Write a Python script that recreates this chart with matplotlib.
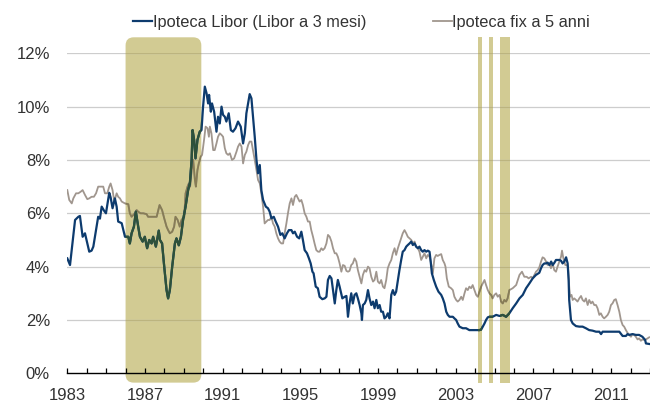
import matplotlib.pyplot as plt
from matplotlib.patches import FancyBboxPatch
from matplotlib.ticker import MultipleLocator, FixedLocator

plt.rcParams['font.family'] = ['Liberation Sans', 'DejaVu Sans']

# Ipoteca Libor (Libor a 3 mesi)
libor_year = [
    1983.00, 1983.14, 1983.40, 1983.57, 1983.65, 1983.79, 1983.91, 1984.13, 1984.25, 1984.34,
    1984.59, 1984.68, 1984.77, 1984.89, 1984.99, 1985.16, 1985.23, 1985.33, 1985.45, 1985.54,
    1985.62, 1985.80, 1985.97, 1986.14, 1986.22, 1986.31, 1986.43, 1986.53, 1986.65, 1986.74,
    1986.88, 1986.99, 1987.11, 1987.22, 1987.34, 1987.42, 1987.56, 1987.71, 1987.77, 1987.88,
    1987.99, 1988.11, 1988.19, 1988.28, 1988.40, 1988.54, 1988.62, 1988.74, 1988.85, 1988.96,
    1989.09, 1989.22, 1989.31, 1989.40, 1989.45, 1989.53, 1989.60, 1989.70, 1989.82, 1989.91,
    1989.99, 1990.08, 1990.17, 1990.25, 1990.30, 1990.39, 1990.45, 1990.56, 1990.68, 1990.76,
    1990.85, 1990.94, 1991.02, 1991.11, 1991.19, 1991.31, 1991.42, 1991.53, 1991.66, 1991.79,
    1991.93, 1992.05, 1992.14, 1992.22, 1992.31, 1992.39, 1992.48, 1992.56, 1992.65, 1992.74,
    1992.82, 1992.91, 1992.99, 1993.08, 1993.22, 1993.33, 1993.42, 1993.51, 1993.63, 1993.73,
    1993.85, 1993.97, 1994.07, 1994.19, 1994.31, 1994.41, 1994.54, 1994.62, 1994.71, 1994.83,
    1994.94, 1995.05, 1995.13, 1995.22, 1995.34, 1995.44, 1995.53, 1995.62, 1995.68, 1995.79,
    1995.90, 1995.99, 1996.13, 1996.25, 1996.34, 1996.42, 1996.51, 1996.60, 1996.68, 1996.77,
    1996.85, 1996.93, 1997.02, 1997.16, 1997.28, 1997.37, 1997.45, 1997.53, 1997.62, 1997.70,
    1997.79, 1997.88, 1997.96, 1998.05, 1998.14, 1998.17, 1998.22, 1998.31, 1998.39, 1998.48,
    1998.56, 1998.65, 1998.74, 1998.82, 1998.91, 1998.99, 1999.08, 1999.16, 1999.25, 1999.33,
    1999.42, 1999.50, 1999.59, 1999.68, 1999.76, 1999.85, 1999.93, 2000.02, 2000.10, 2000.19,
    2000.27, 2000.36, 2000.45, 2000.53, 2000.62, 2000.71, 2000.79, 2000.88, 2000.96, 2001.05,
    2001.13, 2001.22, 2001.30, 2001.39, 2001.48, 2001.56, 2001.65, 2001.70, 2001.77, 2001.87,
    2001.99, 2002.11, 2002.25, 2002.33, 2002.42, 2002.51, 2002.59, 2002.68, 2002.85, 2002.93,
    2003.02, 2003.10, 2003.19, 2003.36, 2003.53, 2003.70, 2003.87, 2004.05, 2004.22, 2004.31,
    2004.39, 2004.48, 2004.56, 2004.65, 2004.73, 2004.90, 2005.08, 2005.25, 2005.42, 2005.59,
    2005.76, 2005.93, 2006.11, 2006.28, 2006.45, 2006.62, 2006.79, 2006.96, 2007.13, 2007.30,
    2007.39, 2007.47, 2007.56, 2007.65, 2007.73, 2007.82, 2007.91, 2007.99, 2008.08, 2008.16,
    2008.33, 2008.42, 2008.50, 2008.59, 2008.68, 2008.76, 2008.81, 2008.84, 2008.90, 2008.93,
    2009.02, 2009.19, 2009.36, 2009.53, 2009.70, 2009.87, 2010.04, 2010.22, 2010.39, 2010.48,
    2010.56, 2010.73, 2011.42, 2011.59, 2011.76, 2011.84, 2011.93, 2012.10, 2012.27, 2012.44,
    2012.61, 2012.75, 2012.79, 2012.96,
]
libor_rate = [
    4.31, 4.06, 5.75, 5.87, 5.90, 5.12, 5.25, 4.56, 4.60, 4.75,
    5.87, 5.80, 6.25, 6.10, 6.00, 6.77, 6.60, 6.19, 6.56, 6.25,
    5.69, 5.63, 5.12, 5.12, 4.87, 5.25, 5.50, 6.06, 5.50, 5.12,
    4.94, 5.12, 4.69, 5.00, 4.87, 5.12, 4.75, 5.35, 5.00, 4.87,
    4.00, 3.12, 2.81, 3.12, 4.00, 4.87, 5.06, 4.80, 5.12, 5.75,
    6.25, 6.87, 7.12, 8.00, 9.12, 8.75, 8.06, 8.75, 9.06, 9.12,
    10.00, 10.75, 10.50, 10.12, 10.44, 9.81, 10.12, 9.81, 9.06, 9.62,
    9.37, 10.00, 9.69, 9.62, 9.44, 9.75, 9.12, 9.06, 9.19, 9.44,
    9.25, 8.62, 9.00, 9.75, 10.12, 10.47, 10.31, 9.62, 8.87, 8.00,
    7.50, 7.81, 6.87, 6.50, 6.25, 6.19, 6.06, 5.81, 5.87, 5.69,
    5.50, 5.19, 5.25, 5.06, 5.25, 5.37, 5.37, 5.25, 5.31, 5.12,
    5.06, 5.31, 5.00, 4.62, 4.50, 4.31, 4.12, 3.81, 3.75, 3.25,
    3.19, 2.87, 2.78, 2.81, 2.87, 3.50, 3.65, 3.56, 3.12, 2.62,
    3.12, 3.50, 3.25, 2.81, 2.87, 2.90, 2.12, 2.62, 3.00, 2.62,
    2.94, 3.00, 2.81, 2.56, 2.25, 2.00, 2.56, 2.62, 2.75, 3.12,
    2.81, 2.56, 2.69, 2.44, 2.75, 2.44, 2.56, 2.31, 2.31, 2.06,
    2.12, 2.25, 2.06, 2.94, 3.12, 2.94, 3.06, 3.50, 3.87, 4.25,
    4.56, 4.62, 4.75, 4.81, 4.87, 4.94, 4.81, 4.87, 4.75, 4.69,
    4.75, 4.62, 4.56, 4.62, 4.56, 4.60, 4.56, 4.25, 3.75, 3.50,
    3.25, 3.06, 2.94, 2.81, 2.62, 2.31, 2.19, 2.12, 2.12, 2.06,
    2.00, 1.87, 1.75, 1.69, 1.69, 1.62, 1.62, 1.62, 1.62, 1.64,
    1.75, 1.87, 2.00, 2.10, 2.12, 2.12, 2.19, 2.15, 2.19, 2.12,
    2.25, 2.44, 2.62, 2.81, 2.94, 3.19, 3.37, 3.56, 3.69, 3.77,
    3.94, 4.06, 4.12, 4.12, 4.15, 4.06, 4.19, 4.06, 4.15, 4.25,
    4.25, 4.22, 4.12, 4.19, 4.35, 4.12, 3.50, 2.75, 2.25, 2.00,
    1.87, 1.77, 1.75, 1.75, 1.69, 1.62, 1.60, 1.56, 1.56, 1.47,
    1.56, 1.56, 1.56, 1.40, 1.40, 1.47, 1.44, 1.47, 1.44, 1.44,
    1.37, 1.25, 1.12, 1.10,
]

# Ipoteca fix a 5 anni
fix_year = [
    1983.00, 1983.10, 1983.23, 1983.31, 1983.45, 1983.57, 1983.69, 1983.79, 1983.91, 1984.03,
    1984.13, 1984.25, 1984.37, 1984.48, 1984.59, 1984.77, 1984.85, 1984.94, 1985.06, 1985.16,
    1985.23, 1985.33, 1985.42, 1985.54, 1985.62, 1985.71, 1985.80, 1985.97, 1986.14, 1986.22,
    1986.31, 1986.48, 1986.57, 1986.65, 1986.77, 1986.91, 1987.08, 1987.16, 1987.42, 1987.60,
    1987.75, 1987.88, 1987.99, 1988.11, 1988.19, 1988.28, 1988.40, 1988.50, 1988.57, 1988.68,
    1988.79, 1988.88, 1989.02, 1989.09, 1989.19, 1989.26, 1989.32, 1989.40, 1989.48, 1989.57,
    1989.62, 1989.70, 1989.77, 1989.87, 1989.94, 1990.04, 1990.12, 1990.22, 1990.29, 1990.34,
    1990.42, 1990.51, 1990.59, 1990.68, 1990.76, 1990.85, 1990.94, 1991.02, 1991.11, 1991.19,
    1991.28, 1991.37, 1991.48, 1991.59, 1991.71, 1991.79, 1991.88, 1991.97, 1992.05, 1992.14,
    1992.22, 1992.31, 1992.39, 1992.48, 1992.56, 1992.65, 1992.74, 1992.82, 1992.91, 1992.99,
    1993.08, 1993.16, 1993.25, 1993.33, 1993.42, 1993.51, 1993.59, 1993.68, 1993.76, 1993.85,
    1993.93, 1994.02, 1994.11, 1994.19, 1994.28, 1994.36, 1994.45, 1994.54, 1994.62, 1994.71,
    1994.79, 1994.88, 1994.96, 1995.05, 1995.13, 1995.22, 1995.31, 1995.39, 1995.48, 1995.56,
    1995.65, 1995.73, 1995.82, 1995.91, 1995.99, 1996.08, 1996.16, 1996.25, 1996.34, 1996.42,
    1996.51, 1996.60, 1996.68, 1996.77, 1996.85, 1996.93, 1997.02, 1997.11, 1997.19, 1997.28,
    1997.37, 1997.45, 1997.53, 1997.62, 1997.70, 1997.79, 1997.88, 1997.96, 1998.05, 1998.14,
    1998.22, 1998.31, 1998.39, 1998.48, 1998.56, 1998.65, 1998.74, 1998.82, 1998.91, 1998.99,
    1999.08, 1999.16, 1999.25, 1999.33, 1999.42, 1999.50, 1999.59, 1999.68, 1999.76, 1999.85,
    1999.93, 2000.02, 2000.10, 2000.19, 2000.27, 2000.36, 2000.45, 2000.53, 2000.62, 2000.71,
    2000.79, 2000.88, 2000.96, 2001.05, 2001.13, 2001.22, 2001.30, 2001.39, 2001.48, 2001.56,
    2001.65, 2001.73, 2001.82, 2001.90, 2001.99, 2002.07, 2002.16, 2002.25, 2002.33, 2002.42,
    2002.47, 2002.54, 2002.64, 2002.76, 2002.85, 2002.93, 2003.02, 2003.10, 2003.19, 2003.28,
    2003.36, 2003.45, 2003.53, 2003.62, 2003.70, 2003.79, 2003.87, 2003.96, 2004.05, 2004.13,
    2004.22, 2004.31, 2004.39, 2004.48, 2004.56, 2004.65, 2004.73, 2004.82, 2004.90, 2004.99,
    2005.08, 2005.16, 2005.25, 2005.33, 2005.42, 2005.50, 2005.59, 2005.67, 2005.76, 2005.93,
    2006.11, 2006.28, 2006.41, 2006.53, 2006.65, 2006.75, 2006.88, 2006.96, 2007.05, 2007.13,
    2007.22, 2007.30, 2007.39, 2007.47, 2007.56, 2007.65, 2007.73, 2007.82, 2007.90, 2007.99,
    2008.07, 2008.16, 2008.24, 2008.33, 2008.42, 2008.47, 2008.54, 2008.64, 2008.71, 2008.78,
    2008.84, 2008.88, 2008.96, 2009.02, 2009.10, 2009.19, 2009.27, 2009.36, 2009.45, 2009.53,
    2009.62, 2009.70, 2009.79, 2009.87, 2009.96, 2010.04, 2010.13, 2010.22, 2010.30, 2010.39,
    2010.47, 2010.56, 2010.64, 2010.73, 2010.82, 2010.90, 2010.99, 2011.07, 2011.16, 2011.24,
    2011.33, 2011.42, 2011.50, 2011.59, 2011.67, 2011.76, 2011.84, 2011.93, 2012.02, 2012.10,
    2012.19, 2012.27, 2012.36, 2012.44, 2012.53, 2012.61, 2012.70, 2012.79, 2012.87, 2012.96,
]
fix_rate = [
    6.87, 6.50, 6.37, 6.56, 6.75, 6.75, 6.81, 6.87, 6.69, 6.53,
    6.56, 6.62, 6.62, 6.75, 7.00, 7.00, 7.00, 6.75, 6.75, 7.00,
    7.12, 6.87, 6.44, 6.75, 6.62, 6.56, 6.44, 6.37, 6.34, 6.00,
    5.87, 6.00, 6.12, 6.06, 6.00, 6.00, 5.97, 5.87, 5.87, 5.87,
    6.31, 6.12, 5.81, 5.50, 5.37, 5.25, 5.31, 5.50, 5.87, 5.75,
    5.50, 5.75, 5.87, 6.75, 7.00, 7.12, 7.00, 7.62, 8.00, 7.25,
    7.00, 7.62, 7.87, 8.12, 8.19, 8.75, 9.25, 9.19, 8.87, 9.25,
    9.00, 8.37, 8.37, 8.62, 8.87, 9.00, 8.94, 8.87, 8.44, 8.25,
    8.19, 8.25, 8.00, 8.06, 8.31, 8.50, 8.62, 8.50, 7.87, 8.19,
    8.31, 8.56, 8.69, 8.69, 8.37, 8.00, 7.62, 7.25, 7.12, 6.75,
    6.25, 5.62, 5.69, 5.75, 5.75, 5.87, 5.62, 5.50, 5.25, 5.06,
    4.94, 4.87, 4.87, 5.25, 5.62, 6.00, 6.37, 6.56, 6.31, 6.62,
    6.69, 6.56, 6.44, 6.50, 6.31, 6.00, 5.87, 5.69, 5.69, 5.37,
    5.12, 4.87, 4.62, 4.56, 4.56, 4.69, 4.62, 4.69, 4.87, 5.19,
    5.12, 4.94, 4.69, 4.50, 4.50, 4.37, 4.12, 3.81, 4.06, 4.03,
    3.84, 3.81, 3.84, 4.06, 4.12, 4.31, 4.19, 3.87, 3.62, 3.37,
    3.69, 3.87, 3.81, 4.00, 3.94, 3.62, 3.44, 3.50, 3.81, 3.44,
    3.37, 3.50, 3.25, 3.19, 3.50, 3.94, 4.12, 4.25, 4.50, 4.69,
    4.44, 4.69, 4.87, 5.06, 5.25, 5.37, 5.25, 5.12, 5.06, 5.00,
    4.87, 4.94, 4.75, 4.69, 4.56, 4.25, 4.37, 4.50, 4.31, 4.44,
    4.37, 4.12, 3.75, 4.31, 4.44, 4.40, 4.44, 4.47, 4.25, 4.12,
    4.00, 3.56, 3.25, 3.19, 3.12, 2.87, 2.75, 2.69, 2.75, 2.87,
    2.75, 3.00, 3.19, 3.12, 3.25, 3.19, 3.31, 3.12, 2.94, 2.87,
    3.06, 3.25, 3.37, 3.50, 3.31, 3.12, 3.00, 2.94, 2.81, 2.94,
    3.00, 2.87, 2.94, 2.69, 2.62, 2.75, 2.69, 2.81, 3.12, 3.19,
    3.31, 3.69, 3.81, 3.62, 3.62, 3.56, 3.62, 3.56, 3.69, 3.81,
    3.87, 3.97, 4.19, 4.35, 4.31, 4.19, 4.06, 4.12, 3.94, 4.12,
    3.87, 3.81, 4.00, 4.19, 4.37, 4.60, 4.31, 4.06, 4.06, 4.00,
    3.25, 2.87, 2.94, 2.75, 2.81, 2.75, 2.69, 2.81, 2.90, 2.75,
    2.69, 2.81, 2.56, 2.75, 2.62, 2.69, 2.56, 2.56, 2.44, 2.19,
    2.25, 2.12, 2.06, 2.12, 2.19, 2.31, 2.56, 2.62, 2.75, 2.78,
    2.56, 2.31, 2.00, 1.81, 1.75, 1.62, 1.52, 1.44, 1.37, 1.47,
    1.44, 1.37, 1.27, 1.31, 1.22, 1.27, 1.25, 1.27, 1.31, 1.35,
]

# shaded periods
shade_start = [1986.0, 2004.13, 2004.73, 2005.28]
shade_end = [1989.9, 2004.34, 2004.92, 2005.81]
shade_round = [True, False, False, False]

yticks = [0, 2, 4, 6, 8, 10, 12]

navy = '#0d3b6e'
grey = '#a0968e'
navy_in = '#2e5139'
grey_in = '#877d55'
band = '#d2cb93'
grid_c = '#cdcdcd'
grid_in = '#bcb47f'

fig = plt.figure(figsize=(6.5, 4.03), dpi=100)
ax = fig.add_axes([67.3 / 650, (403 - 373.3) / 403, 1 - 67.3 / 650, 320 / 403])
ax.set_xlim(1983, 2013)
ax.set_ylim(0, 12)

for y in yticks[1:]:
    ax.axhline(y, color=grid_c, lw=0.9, zorder=1)

l1, = ax.plot(libor_year, libor_rate, color=navy, lw=1.6, zorder=3,
              label='Ipoteca Libor (Libor a 3 mesi)')
l2, = ax.plot(fix_year, fix_rate, color=grey, lw=1.3, zorder=2,
              label='Ipoteca fix a 5 anni')

for x0, x1, rnd in zip(shade_start, shade_end, shade_round):
    style = 'round,pad=0,rounding_size=0.42' if rnd else 'square,pad=0'
    p = FancyBboxPatch((x0, -0.35), x1 - x0, 12.95, boxstyle=style,
                       mutation_aspect=0.73, facecolor=band, edgecolor='none',
                       zorder=0.8, clip_on=False)
    ax.add_patch(p)
    # darker copies of lines and grid inside the band
    for y in yticks[1:]:
        g = ax.axhline(y, color=grid_in, lw=0.9, zorder=1.1)
        g.set_clip_path(p)
    a, = ax.plot(fix_year, fix_rate, color=grey_in, lw=1.3, zorder=2.1)
    a.set_clip_path(p)
    b, = ax.plot(libor_year, libor_rate, color=navy_in, lw=1.6, zorder=3.1)
    b.set_clip_path(p)

for s in ['top', 'right', 'left']:
    ax.spines[s].set_visible(False)
ax.spines['bottom'].set_color('black')
ax.spines['bottom'].set_linewidth(1.0)
ax.spines['bottom'].set_zorder(4)

ax.xaxis.set_major_locator(FixedLocator(list(range(1983, 2013, 4))))
ax.xaxis.set_minor_locator(MultipleLocator(1))
ax.set_yticks(yticks)
ax.set_yticklabels([f'{v}%' for v in yticks])
ax.tick_params(axis='x', which='both', direction='in', length=3.6, width=0.9,
               color='black', labelsize=12, pad=10.5, labelcolor='#333333')
ax.tick_params(axis='y', length=0, pad=12.5, labelsize=12, labelcolor='#333333')

leg1 = ax.legend(handles=[l1], loc='center left', bbox_to_anchor=(133 / 650, 1 - 22 / 403),
                 bbox_transform=fig.transFigure, frameon=False, fontsize=11.8,
                 handlelength=1.15, handletextpad=0.05, borderpad=0, borderaxespad=0,
                 labelcolor='#333333')
ax.add_artist(leg1)
ax.legend(handles=[l2], loc='center left', bbox_to_anchor=(432.7 / 650, 1 - 22 / 403),
          bbox_transform=fig.transFigure, frameon=False, fontsize=11.8,
          handlelength=1.15, handletextpad=0.05, borderpad=0, borderaxespad=0,
          labelcolor='#333333')

fig.savefig('out.png', dpi=100)
